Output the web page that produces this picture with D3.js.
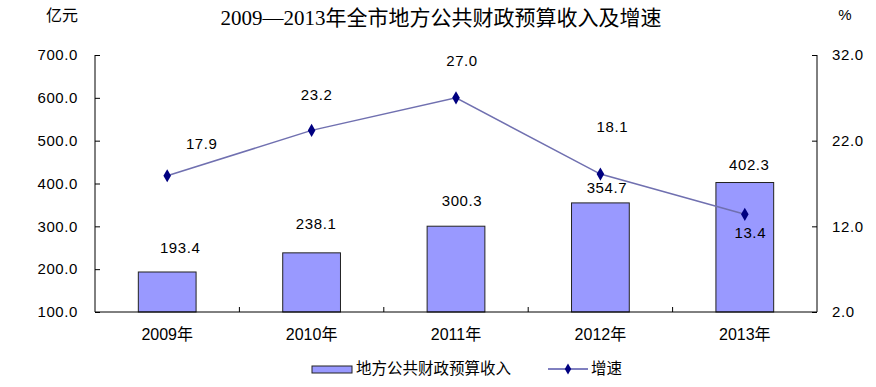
<!DOCTYPE html>
<html>
<head>
<meta charset="utf-8">
<script src="https://cdn.jsdelivr.net/npm/d3@7"></script>
<style>
  body { margin: 0; background: #fff; }
  svg { display: block; }
  text { font-family: "Liberation Sans", Arial, "Noto Sans CJK SC", sans-serif; fill: #000; }
  .cjk { font-family: "Liberation Sans", "Noto Sans CJK SC", sans-serif; }
  .ttl { font-family: "Liberation Serif", "Noto Sans CJK SC", serif; }
</style>
</head>
<body>
<svg width="876" height="387"></svg>
<script>
// data
var years = ["2009年", "2010年", "2011年", "2012年", "2013年"];
var revenue = [193.4, 238.1, 300.3, 354.7, 402.3];
var growth = [17.9, 23.2, 27.0, 18.1, 13.4];
var leftTicks = [100, 200, 300, 400, 500, 600, 700];
var rightTicks = [2, 12, 22, 32];

// hand-placed label nudges (as in the original chart)
var barLabelOff = [[13, -24], [4.5, -29], [6, -25], [6.5, -15], [4.5, -18]];
var lineLabelOff = [[34.5, -32], [5, -36], [6, -37], [12, -47], [5.5, 18]];

var svg = d3.select("svg");
var plotL = 95, plotR = 817, plotT = 55, plotB = 312;

var x = d3.scaleBand().domain(years).range([plotL, plotR]).paddingInner(0.6).paddingOuter(0.3);
var yL = d3.scaleLinear().domain([100, 700]).range([plotB, plotT]);
var yR = d3.scaleLinear().domain([2, 32]).range([plotB, plotT]);
var cx = function(d) { return x(d) + x.bandwidth() / 2; };

// title + units
svg.append("text").attr("class", "ttl").attr("x", 441).attr("y", 18).attr("dy", "0.35em")
  .attr("text-anchor", "middle").style("font-size", "21px")
  .text("2009—2013年全市地方公共财政预算收入及增速");
svg.append("text").attr("class", "cjk").attr("x", 62).attr("y", 15).attr("dy", "0.35em")
  .attr("text-anchor", "middle").style("font-size", "16px").text("亿元");
svg.append("text").attr("x", 845).attr("y", 15).attr("dy", "0.35em")
  .attr("text-anchor", "middle").style("font-size", "15px").text("%");

// bars
svg.selectAll("rect.bar").data(revenue).enter().append("rect")
  .attr("class", "bar")
  .attr("x", function(d, i) { return x(years[i]); })
  .attr("width", x.bandwidth())
  .attr("y", function(d) { return yL(d); })
  .attr("height", function(d) { return plotB - yL(d); })
  .attr("fill", "#9999FF").attr("stroke", "#222").attr("stroke-width", 1);

// axes
var axisL = d3.axisLeft(yL).tickValues(leftTicks).tickSize(-5).tickPadding(17).tickFormat(d3.format(".1f"));
var gL = svg.append("g").attr("transform", "translate(" + plotL + ",0)").call(axisL);
var axisR = d3.axisRight(yR).tickValues(rightTicks).tickSize(-5).tickPadding(15).tickFormat(d3.format(".1f"));
var gR = svg.append("g").attr("transform", "translate(" + plotR + ",0)").call(axisR);
[gL, gR].forEach(function(g) {
  g.select(".domain").attr("stroke", "#000").attr("d", "M0," + plotT + "V" + plotB);
  g.selectAll(".tick line").attr("stroke", "#000");
  g.selectAll(".tick text").style("font-size", "15px").style("letter-spacing", "0.6px");
});

// bottom axis line + category separators
svg.append("line").attr("x1", plotL).attr("x2", plotR).attr("y1", plotB).attr("y2", plotB)
  .attr("stroke", "#000");
svg.selectAll("line.sep").data(years.slice(0, -1)).enter().append("line")
  .attr("class", "sep")
  .attr("x1", function(d) { return cx(d) + x.step() / 2; })
  .attr("x2", function(d) { return cx(d) + x.step() / 2; })
  .attr("y1", plotB).attr("y2", plotB - 5).attr("stroke", "#000");
svg.selectAll("text.cat").data(years).enter().append("text")
  .attr("class", "cat cjk")
  .attr("x", cx).attr("y", 334).attr("dy", "0.35em")
  .attr("text-anchor", "middle").style("font-size", "16px")
  .text(function(d) { return d; });

// line
var line = d3.line().x(function(d, i) { return cx(years[i]); }).y(function(d) { return yR(d); });
svg.append("path").datum(growth).attr("d", line)
  .attr("fill", "none").attr("stroke", "#7070B0").attr("stroke-width", 1.5);
var diamond = d3.symbol().type(d3.symbolDiamond).size(50);
svg.selectAll("path.mk").data(growth).enter().append("path")
  .attr("class", "mk")
  .attr("d", diamond)
  .attr("transform", function(d, i) { return "translate(" + cx(years[i]) + "," + yR(d) + ")"; })
  .attr("fill", "#000080");

// labels
svg.selectAll("text.bl").data(revenue).enter().append("text")
  .attr("class", "bl")
  .attr("x", function(d, i) { return cx(years[i]) + barLabelOff[i][0]; })
  .attr("y", function(d, i) { return yL(d) + barLabelOff[i][1]; })
  .attr("dy", "0.35em").attr("text-anchor", "middle")
  .style("font-size", "15px").style("letter-spacing", "0.6px")
  .text(function(d) { return d.toFixed(1); });
svg.selectAll("text.ll").data(growth).enter().append("text")
  .attr("class", "ll")
  .attr("x", function(d, i) { return cx(years[i]) + lineLabelOff[i][0]; })
  .attr("y", function(d, i) { return yR(d) + lineLabelOff[i][1]; })
  .attr("dy", "0.35em").attr("text-anchor", "middle")
  .style("font-size", "15px").style("letter-spacing", "0.6px")
  .text(function(d) { return d.toFixed(1); });

// legend
var lg = svg.append("g");
lg.append("rect").attr("x", 312).attr("y", 366).attr("width", 40).attr("height", 7)
  .attr("fill", "#9999FF").attr("stroke", "#222");
lg.append("text").attr("class", "cjk").attr("x", 356).attr("y", 369).attr("dy", "0.35em")
  .style("font-size", "15.5px").text("地方公共财政预算收入");
lg.append("line").attr("x1", 548).attr("x2", 588).attr("y1", 369).attr("y2", 369)
  .attr("stroke", "#000080").attr("stroke-width", 1);
lg.append("path").attr("d", d3.symbol().type(d3.symbolDiamond).size(36)).attr("transform", "translate(568,369)").attr("fill", "#000080");
lg.append("text").attr("class", "cjk").attr("x", 591).attr("y", 369).attr("dy", "0.35em")
  .style("font-size", "15.5px").text("增速");
</script>
</body>
</html>
